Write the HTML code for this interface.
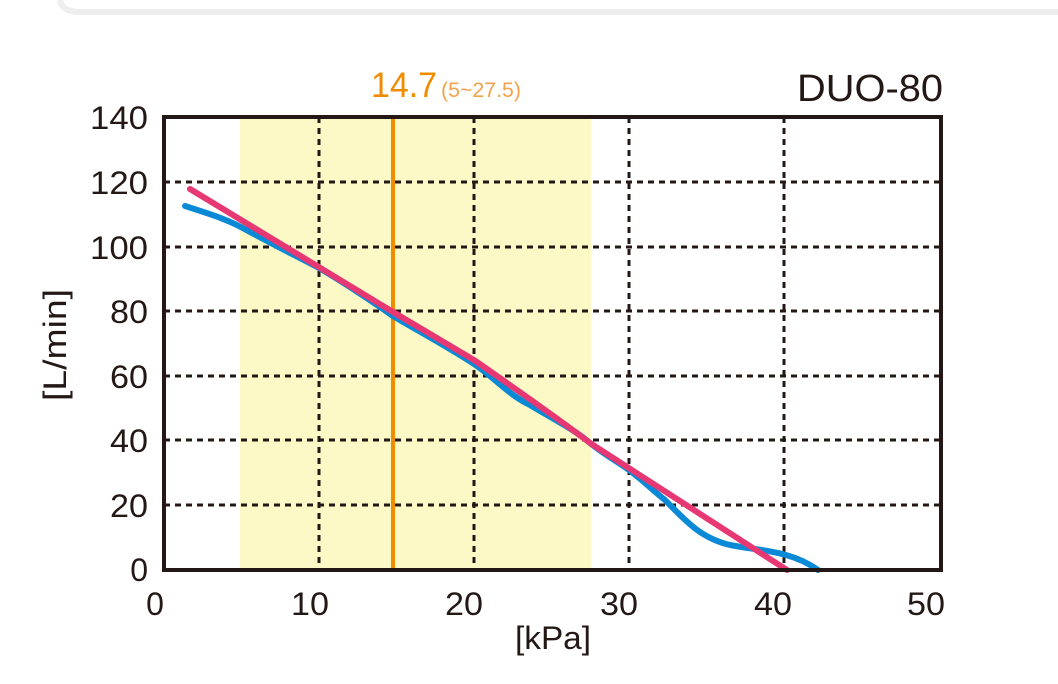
<!DOCTYPE html>
<html><head><style>
html,body{margin:0;padding:0;background:#fff;}
svg{display:block;}
text{font-family:"Liberation Sans",sans-serif;}
</style></head><body>
<svg width="1058" height="684" viewBox="0 0 1058 684">
<path d="M60,0 Q62,12 80,12 L1058,12" fill="none" stroke="#eeeeee" stroke-width="6"/>
<rect x="240" y="117" width="351" height="453" fill="#fdf9c6"/>
<g stroke="#231815" stroke-width="3" stroke-dasharray="6,5">
<line x1="319" y1="117" x2="319" y2="570"/>
<line x1="474" y1="117" x2="474" y2="570"/>
<line x1="629" y1="117" x2="629" y2="570"/>
<line x1="784" y1="117" x2="784" y2="570"/>
<line x1="164" y1="182" x2="941" y2="182"/>
<line x1="164" y1="247" x2="941" y2="247"/>
<line x1="164" y1="311" x2="941" y2="311"/>
<line x1="164" y1="376" x2="941" y2="376"/>
<line x1="164" y1="440" x2="941" y2="440"/>
<line x1="164" y1="505" x2="941" y2="505"/>
</g>
<line x1="393" y1="115" x2="393" y2="570" stroke="#f08c00" stroke-width="4"/>
<path d="M185,206 C210,214 230,220 250,232 C280,248 300,258 319,268 C345,283 370,300 393,316 C420,332 450,348 474,364 C495,378 510,396 530,405 C555,420 575,430 590,443 C605,455 615,460 629,470 C645,482 650,488 665,500 C685,520 700,538 730,545 C760,551 790,550 818,570" fill="none" stroke="#0a8ad6" stroke-width="6" stroke-linecap="round"/>
<path d="M190,189 L393,312 L474,360 C520,392 560,420 590,443 L787,570" fill="none" stroke="#e83873" stroke-width="6" stroke-linecap="round"/>
<rect x="164" y="117" width="777" height="453" fill="none" stroke="#231815" stroke-width="4"/>
<g font-size="32" fill="#231815" text-anchor="end">
<text x="148" y="129" textLength="58" lengthAdjust="spacingAndGlyphs">140</text>
<text x="148" y="194" textLength="58" lengthAdjust="spacingAndGlyphs">120</text>
<text x="148" y="259" textLength="58" lengthAdjust="spacingAndGlyphs">100</text>
<text x="148" y="323" textLength="38" lengthAdjust="spacingAndGlyphs">80</text>
<text x="148" y="388" textLength="38" lengthAdjust="spacingAndGlyphs">60</text>
<text x="148" y="452" textLength="38" lengthAdjust="spacingAndGlyphs">40</text>
<text x="148" y="517" textLength="38" lengthAdjust="spacingAndGlyphs">20</text>
<text x="148" y="581">0</text>
</g>
<g font-size="32" fill="#231815" text-anchor="middle">
<text x="155" y="615">0</text>
<text x="310" y="615" textLength="38" lengthAdjust="spacingAndGlyphs">10</text>
<text x="464" y="615" textLength="38" lengthAdjust="spacingAndGlyphs">20</text>
<text x="619" y="615" textLength="38" lengthAdjust="spacingAndGlyphs">30</text>
<text x="773" y="615" textLength="38" lengthAdjust="spacingAndGlyphs">40</text>
<text x="926" y="615" textLength="38" lengthAdjust="spacingAndGlyphs">50</text>
<text x="553" y="649" textLength="76" lengthAdjust="spacingAndGlyphs">[kPa]</text>
</g>
<text transform="translate(66,345) rotate(-90)" font-size="32" fill="#231815" text-anchor="middle" textLength="112" lengthAdjust="spacingAndGlyphs">[L/min]</text>
<text x="943" y="101" font-size="38" fill="#231815" text-anchor="end" textLength="146" lengthAdjust="spacingAndGlyphs">DUO-80</text>
<text x="371" y="97" font-size="35" fill="#f08c00" textLength="66" lengthAdjust="spacingAndGlyphs">14.7</text>
<text x="441" y="97" font-size="21" fill="#f3a24a" textLength="80" lengthAdjust="spacingAndGlyphs">(5~27.5)</text>
</svg>
</body></html>
